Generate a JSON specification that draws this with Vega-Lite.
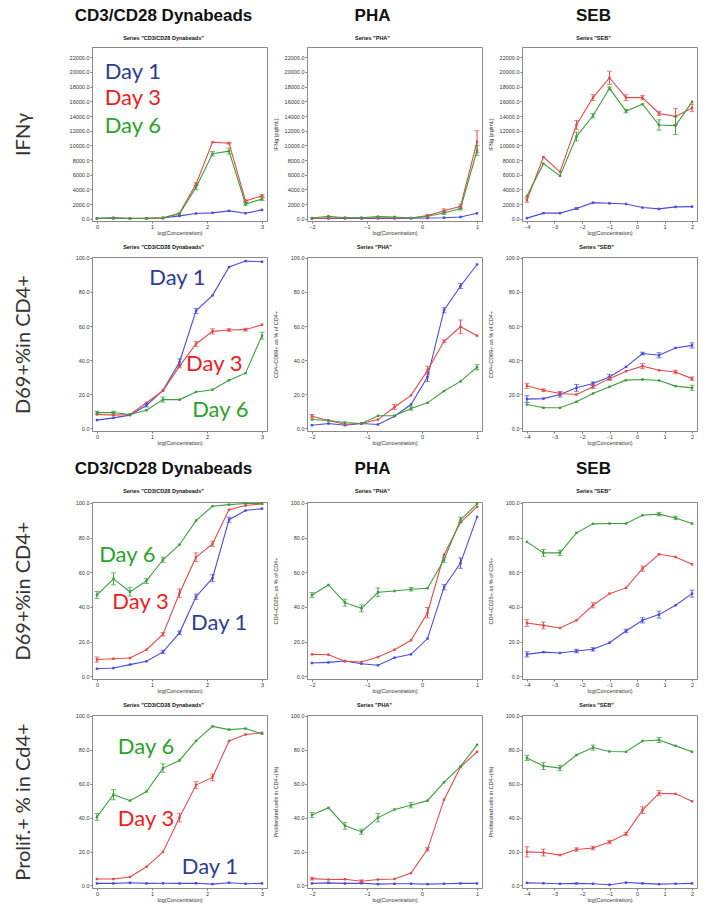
{
"$schema": "https://vega.github.io/schema/vega-lite/v6.json",
"background": "white",
"padding": {"left": 12, "top": 6, "right": 0, "bottom": 0},
"datasets": {
"pts": [
{"p":"a1","d":"Day 1","x":0,"y":60,"e":0},{"p":"a1","d":"Day 1","x":0.3,"y":150,"e":0},{"p":"a1","d":"Day 1","x":0.6,"y":50,"e":0},{"p":"a1","d":"Day 1","x":0.9,"y":50,"e":0},{"p":"a1","d":"Day 1","x":1.2,"y":100,"e":0},{"p":"a1","d":"Day 1","x":1.5,"y":400,"e":0},{"p":"a1","d":"Day 1","x":1.8,"y":720,"e":0},{"p":"a1","d":"Day 1","x":2.1,"y":810,"e":0},{"p":"a1","d":"Day 1","x":2.4,"y":1080,"e":0},{"p":"a1","d":"Day 1","x":2.7,"y":760,"e":0},{"p":"a1","d":"Day 1","x":3,"y":1210,"e":0},
{"p":"a1","d":"Day 3","x":0,"y":50,"e":0},{"p":"a1","d":"Day 3","x":0.3,"y":80,"e":0},{"p":"a1","d":"Day 3","x":0.6,"y":60,"e":0},{"p":"a1","d":"Day 3","x":0.9,"y":60,"e":0},{"p":"a1","d":"Day 3","x":1.2,"y":150,"e":0},{"p":"a1","d":"Day 3","x":1.5,"y":760,"e":0},{"p":"a1","d":"Day 3","x":1.8,"y":4720,"e":200},{"p":"a1","d":"Day 3","x":2.1,"y":10440,"e":0},{"p":"a1","d":"Day 3","x":2.4,"y":10300,"e":100},{"p":"a1","d":"Day 3","x":2.7,"y":2430,"e":150},{"p":"a1","d":"Day 3","x":3,"y":3150,"e":150},
{"p":"a1","d":"Day 6","x":0,"y":50,"e":0},{"p":"a1","d":"Day 6","x":0.3,"y":60,"e":0},{"p":"a1","d":"Day 6","x":0.6,"y":50,"e":0},{"p":"a1","d":"Day 6","x":0.9,"y":60,"e":0},{"p":"a1","d":"Day 6","x":1.2,"y":100,"e":0},{"p":"a1","d":"Day 6","x":1.5,"y":670,"e":0},{"p":"a1","d":"Day 6","x":1.8,"y":4270,"e":300},{"p":"a1","d":"Day 6","x":2.1,"y":8860,"e":300},{"p":"a1","d":"Day 6","x":2.4,"y":9220,"e":400},{"p":"a1","d":"Day 6","x":2.7,"y":2020,"e":200},{"p":"a1","d":"Day 6","x":3,"y":2700,"e":200},
{"p":"a2","d":"Day 1","x":-2,"y":50,"e":0},{"p":"a2","d":"Day 1","x":-1.7,"y":60,"e":0},{"p":"a2","d":"Day 1","x":-1.4,"y":50,"e":0},{"p":"a2","d":"Day 1","x":-1.1,"y":50,"e":0},{"p":"a2","d":"Day 1","x":-0.8,"y":60,"e":0},{"p":"a2","d":"Day 1","x":-0.5,"y":60,"e":0},{"p":"a2","d":"Day 1","x":-0.2,"y":80,"e":0},{"p":"a2","d":"Day 1","x":0.1,"y":100,"e":0},{"p":"a2","d":"Day 1","x":0.4,"y":150,"e":0},{"p":"a2","d":"Day 1","x":0.7,"y":250,"e":0},{"p":"a2","d":"Day 1","x":1,"y":750,"e":0},
{"p":"a2","d":"Day 3","x":-2,"y":50,"e":0},{"p":"a2","d":"Day 3","x":-1.7,"y":100,"e":0},{"p":"a2","d":"Day 3","x":-1.4,"y":100,"e":0},{"p":"a2","d":"Day 3","x":-1.1,"y":100,"e":0},{"p":"a2","d":"Day 3","x":-0.8,"y":100,"e":0},{"p":"a2","d":"Day 3","x":-0.5,"y":100,"e":0},{"p":"a2","d":"Day 3","x":-0.2,"y":100,"e":0},{"p":"a2","d":"Day 3","x":0.1,"y":450,"e":100},{"p":"a2","d":"Day 3","x":0.4,"y":1100,"e":250},{"p":"a2","d":"Day 3","x":0.7,"y":1700,"e":300},{"p":"a2","d":"Day 3","x":1,"y":10500,"e":1500},
{"p":"a2","d":"Day 6","x":-2,"y":100,"e":0},{"p":"a2","d":"Day 6","x":-1.7,"y":350,"e":0},{"p":"a2","d":"Day 6","x":-1.4,"y":150,"e":0},{"p":"a2","d":"Day 6","x":-1.1,"y":150,"e":0},{"p":"a2","d":"Day 6","x":-0.8,"y":300,"e":0},{"p":"a2","d":"Day 6","x":-0.5,"y":250,"e":0},{"p":"a2","d":"Day 6","x":-0.2,"y":100,"e":0},{"p":"a2","d":"Day 6","x":0.1,"y":350,"e":0},{"p":"a2","d":"Day 6","x":0.4,"y":800,"e":200},{"p":"a2","d":"Day 6","x":0.7,"y":1400,"e":200},{"p":"a2","d":"Day 6","x":1,"y":9300,"e":700},
{"p":"a3","d":"Day 1","x":-4,"y":90,"e":0},{"p":"a3","d":"Day 1","x":-3.4,"y":770,"e":0},{"p":"a3","d":"Day 1","x":-2.8,"y":770,"e":0},{"p":"a3","d":"Day 1","x":-2.2,"y":1390,"e":100},{"p":"a3","d":"Day 1","x":-1.6,"y":2200,"e":0},{"p":"a3","d":"Day 1","x":-1,"y":2110,"e":0},{"p":"a3","d":"Day 1","x":-0.4,"y":2020,"e":0},{"p":"a3","d":"Day 1","x":0.2,"y":1530,"e":0},{"p":"a3","d":"Day 1","x":0.8,"y":1350,"e":0},{"p":"a3","d":"Day 1","x":1.4,"y":1620,"e":0},{"p":"a3","d":"Day 1","x":2,"y":1660,"e":0},
{"p":"a3","d":"Day 3","x":-4,"y":2560,"e":300},{"p":"a3","d":"Day 3","x":-3.4,"y":8410,"e":0},{"p":"a3","d":"Day 3","x":-2.8,"y":6390,"e":0},{"p":"a3","d":"Day 3","x":-2.2,"y":12780,"e":600},{"p":"a3","d":"Day 3","x":-1.6,"y":16510,"e":400},{"p":"a3","d":"Day 3","x":-1,"y":19210,"e":900},{"p":"a3","d":"Day 3","x":-0.4,"y":16510,"e":400},{"p":"a3","d":"Day 3","x":0.2,"y":16510,"e":300},{"p":"a3","d":"Day 3","x":0.8,"y":14350,"e":300},{"p":"a3","d":"Day 3","x":1.4,"y":13950,"e":1100},{"p":"a3","d":"Day 3","x":2,"y":15100,"e":500},
{"p":"a3","d":"Day 6","x":-4,"y":3100,"e":0},{"p":"a3","d":"Day 6","x":-3.4,"y":7510,"e":0},{"p":"a3","d":"Day 6","x":-2.8,"y":5850,"e":0},{"p":"a3","d":"Day 6","x":-2.2,"y":11200,"e":600},{"p":"a3","d":"Day 6","x":-1.6,"y":14040,"e":300},{"p":"a3","d":"Day 6","x":-1,"y":17770,"e":200},{"p":"a3","d":"Day 6","x":-0.4,"y":14670,"e":250},{"p":"a3","d":"Day 6","x":0.2,"y":15610,"e":0},{"p":"a3","d":"Day 6","x":0.8,"y":12780,"e":700},{"p":"a3","d":"Day 6","x":1.4,"y":12690,"e":1200},{"p":"a3","d":"Day 6","x":2,"y":15930,"e":0},
{"p":"b1","d":"Day 1","x":0,"y":4.9,"e":0},{"p":"b1","d":"Day 1","x":0.3,"y":6.2,"e":0},{"p":"b1","d":"Day 1","x":0.6,"y":7.8,"e":0},{"p":"b1","d":"Day 1","x":0.9,"y":13.6,"e":1},{"p":"b1","d":"Day 1","x":1.2,"y":22.3,"e":0},{"p":"b1","d":"Day 1","x":1.5,"y":38.8,"e":2},{"p":"b1","d":"Day 1","x":1.8,"y":68.9,"e":1.5},{"p":"b1","d":"Day 1","x":2.1,"y":78,"e":0},{"p":"b1","d":"Day 1","x":2.4,"y":94.6,"e":0},{"p":"b1","d":"Day 1","x":2.7,"y":98.1,"e":0},{"p":"b1","d":"Day 1","x":3,"y":97.7,"e":0},
{"p":"b1","d":"Day 3","x":0,"y":8.2,"e":0},{"p":"b1","d":"Day 3","x":0.3,"y":7.8,"e":0},{"p":"b1","d":"Day 3","x":0.6,"y":8.2,"e":0},{"p":"b1","d":"Day 3","x":0.9,"y":15.1,"e":0},{"p":"b1","d":"Day 3","x":1.2,"y":22.1,"e":0},{"p":"b1","d":"Day 3","x":1.5,"y":36.5,"e":1},{"p":"b1","d":"Day 3","x":1.8,"y":49.5,"e":1.5},{"p":"b1","d":"Day 3","x":2.1,"y":56.9,"e":1.5},{"p":"b1","d":"Day 3","x":2.4,"y":57.7,"e":0.8},{"p":"b1","d":"Day 3","x":2.7,"y":57.9,"e":0.8},{"p":"b1","d":"Day 3","x":3,"y":60.8,"e":0},
{"p":"b1","d":"Day 6","x":0,"y":9.3,"e":0.8},{"p":"b1","d":"Day 6","x":0.3,"y":9.3,"e":0.8},{"p":"b1","d":"Day 6","x":0.6,"y":8.2,"e":0},{"p":"b1","d":"Day 6","x":0.9,"y":10.7,"e":0},{"p":"b1","d":"Day 6","x":1.2,"y":16.9,"e":1.5},{"p":"b1","d":"Day 6","x":1.5,"y":16.9,"e":0},{"p":"b1","d":"Day 6","x":1.8,"y":21.4,"e":0},{"p":"b1","d":"Day 6","x":2.1,"y":22.7,"e":0},{"p":"b1","d":"Day 6","x":2.4,"y":28.2,"e":0},{"p":"b1","d":"Day 6","x":2.7,"y":32.4,"e":0},{"p":"b1","d":"Day 6","x":3,"y":54.4,"e":2},
{"p":"b2","d":"Day 1","x":-2,"y":1.9,"e":0},{"p":"b2","d":"Day 1","x":-1.7,"y":2.9,"e":0},{"p":"b2","d":"Day 1","x":-1.4,"y":1.9,"e":0},{"p":"b2","d":"Day 1","x":-1.1,"y":2.9,"e":0},{"p":"b2","d":"Day 1","x":-0.8,"y":2.3,"e":0},{"p":"b2","d":"Day 1","x":-0.5,"y":7.2,"e":0},{"p":"b2","d":"Day 1","x":-0.2,"y":14,"e":0},{"p":"b2","d":"Day 1","x":0.1,"y":30.1,"e":2.5},{"p":"b2","d":"Day 1","x":0.4,"y":69.3,"e":1.5},{"p":"b2","d":"Day 1","x":0.7,"y":83.5,"e":1.5},{"p":"b2","d":"Day 1","x":1,"y":96.1,"e":0},
{"p":"b2","d":"Day 3","x":-2,"y":7.2,"e":1},{"p":"b2","d":"Day 3","x":-1.7,"y":4.7,"e":0},{"p":"b2","d":"Day 3","x":-1.4,"y":2.5,"e":0},{"p":"b2","d":"Day 3","x":-1.1,"y":2.9,"e":0},{"p":"b2","d":"Day 3","x":-0.8,"y":5.2,"e":0},{"p":"b2","d":"Day 3","x":-0.5,"y":12.6,"e":1.5},{"p":"b2","d":"Day 3","x":-0.2,"y":19.4,"e":0},{"p":"b2","d":"Day 3","x":0.1,"y":34,"e":2.5},{"p":"b2","d":"Day 3","x":0.4,"y":51.1,"e":0.8},{"p":"b2","d":"Day 3","x":0.7,"y":59.6,"e":4},{"p":"b2","d":"Day 3","x":1,"y":54.4,"e":0},
{"p":"b2","d":"Day 6","x":-2,"y":5.2,"e":0},{"p":"b2","d":"Day 6","x":-1.7,"y":4.7,"e":0},{"p":"b2","d":"Day 6","x":-1.4,"y":3.5,"e":0},{"p":"b2","d":"Day 6","x":-1.1,"y":2.9,"e":0},{"p":"b2","d":"Day 6","x":-0.8,"y":7.4,"e":0},{"p":"b2","d":"Day 6","x":-0.5,"y":7.4,"e":0},{"p":"b2","d":"Day 6","x":-0.2,"y":11.7,"e":1},{"p":"b2","d":"Day 6","x":0.1,"y":15,"e":0},{"p":"b2","d":"Day 6","x":0.4,"y":21.9,"e":0},{"p":"b2","d":"Day 6","x":0.7,"y":27.6,"e":0},{"p":"b2","d":"Day 6","x":1,"y":35.9,"e":1.5},
{"p":"b3","d":"Day 1","x":-4,"y":17.2,"e":2},{"p":"b3","d":"Day 1","x":-3.4,"y":17.5,"e":0},{"p":"b3","d":"Day 1","x":-2.8,"y":19.9,"e":1.5},{"p":"b3","d":"Day 1","x":-2.2,"y":23.8,"e":2},{"p":"b3","d":"Day 1","x":-1.6,"y":26.3,"e":1},{"p":"b3","d":"Day 1","x":-1,"y":30.2,"e":1.5},{"p":"b3","d":"Day 1","x":-0.4,"y":36.1,"e":0},{"p":"b3","d":"Day 1","x":0.2,"y":43.9,"e":0.8},{"p":"b3","d":"Day 1","x":0.8,"y":42.9,"e":1.5},{"p":"b3","d":"Day 1","x":1.4,"y":47.2,"e":0},{"p":"b3","d":"Day 1","x":2,"y":48.7,"e":1.5},
{"p":"b3","d":"Day 3","x":-4,"y":25,"e":1.5},{"p":"b3","d":"Day 3","x":-3.4,"y":22.4,"e":0.8},{"p":"b3","d":"Day 3","x":-2.8,"y":20.5,"e":1},{"p":"b3","d":"Day 3","x":-2.2,"y":19.9,"e":0},{"p":"b3","d":"Day 3","x":-1.6,"y":24.4,"e":1},{"p":"b3","d":"Day 3","x":-1,"y":29.2,"e":1},{"p":"b3","d":"Day 3","x":-0.4,"y":33.5,"e":0},{"p":"b3","d":"Day 3","x":0.2,"y":36.5,"e":1.5},{"p":"b3","d":"Day 3","x":0.8,"y":34.1,"e":0},{"p":"b3","d":"Day 3","x":1.4,"y":33.1,"e":1},{"p":"b3","d":"Day 3","x":2,"y":29.2,"e":1},
{"p":"b3","d":"Day 6","x":-4,"y":14,"e":0},{"p":"b3","d":"Day 6","x":-3.4,"y":12.1,"e":0},{"p":"b3","d":"Day 6","x":-2.8,"y":12.1,"e":0},{"p":"b3","d":"Day 6","x":-2.2,"y":15.6,"e":0},{"p":"b3","d":"Day 6","x":-1.6,"y":20.5,"e":0},{"p":"b3","d":"Day 6","x":-1,"y":24.4,"e":0},{"p":"b3","d":"Day 6","x":-0.4,"y":28.3,"e":0},{"p":"b3","d":"Day 6","x":0.2,"y":28.7,"e":0},{"p":"b3","d":"Day 6","x":0.8,"y":28.1,"e":0},{"p":"b3","d":"Day 6","x":1.4,"y":24.8,"e":0},{"p":"b3","d":"Day 6","x":2,"y":23.8,"e":1.5},
{"p":"c1","d":"Day 1","x":0,"y":4.4,"e":0},{"p":"c1","d":"Day 1","x":0.3,"y":4.8,"e":0},{"p":"c1","d":"Day 1","x":0.6,"y":6.8,"e":0},{"p":"c1","d":"Day 1","x":0.9,"y":8.7,"e":0},{"p":"c1","d":"Day 1","x":1.2,"y":14.1,"e":1},{"p":"c1","d":"Day 1","x":1.5,"y":25.1,"e":1},{"p":"c1","d":"Day 1","x":1.8,"y":45.9,"e":1.5},{"p":"c1","d":"Day 1","x":2.1,"y":56.6,"e":2},{"p":"c1","d":"Day 1","x":2.4,"y":90.3,"e":1.5},{"p":"c1","d":"Day 1","x":2.7,"y":95.6,"e":0},{"p":"c1","d":"Day 1","x":3,"y":96.7,"e":0},
{"p":"c1","d":"Day 3","x":0,"y":9.7,"e":1.5},{"p":"c1","d":"Day 3","x":0.3,"y":10.2,"e":0},{"p":"c1","d":"Day 3","x":0.6,"y":10.6,"e":0},{"p":"c1","d":"Day 3","x":0.9,"y":15.4,"e":0},{"p":"c1","d":"Day 3","x":1.2,"y":24.3,"e":1},{"p":"c1","d":"Day 3","x":1.5,"y":47.9,"e":2.5},{"p":"c1","d":"Day 3","x":1.8,"y":68.7,"e":2.5},{"p":"c1","d":"Day 3","x":2.1,"y":76.4,"e":1.5},{"p":"c1","d":"Day 3","x":2.4,"y":96.1,"e":0},{"p":"c1","d":"Day 3","x":2.7,"y":98.5,"e":0},{"p":"c1","d":"Day 3","x":3,"y":99.4,"e":0},
{"p":"c1","d":"Day 6","x":0,"y":46.9,"e":2},{"p":"c1","d":"Day 6","x":0.3,"y":56.2,"e":3.5},{"p":"c1","d":"Day 6","x":0.6,"y":48.8,"e":2.5},{"p":"c1","d":"Day 6","x":0.9,"y":55,"e":1.5},{"p":"c1","d":"Day 6","x":1.2,"y":67.2,"e":1.5},{"p":"c1","d":"Day 6","x":1.5,"y":75.9,"e":0},{"p":"c1","d":"Day 6","x":1.8,"y":89.8,"e":0},{"p":"c1","d":"Day 6","x":2.1,"y":98.1,"e":0},{"p":"c1","d":"Day 6","x":2.4,"y":99,"e":0},{"p":"c1","d":"Day 6","x":2.7,"y":99.6,"e":0},{"p":"c1","d":"Day 6","x":3,"y":99.6,"e":0},
{"p":"c2","d":"Day 1","x":-2,"y":7.7,"e":0},{"p":"c2","d":"Day 1","x":-1.7,"y":8.1,"e":0},{"p":"c2","d":"Day 1","x":-1.4,"y":8.9,"e":0},{"p":"c2","d":"Day 1","x":-1.1,"y":7.3,"e":0},{"p":"c2","d":"Day 1","x":-0.8,"y":6.4,"e":0},{"p":"c2","d":"Day 1","x":-0.5,"y":10.8,"e":0},{"p":"c2","d":"Day 1","x":-0.2,"y":12.7,"e":0},{"p":"c2","d":"Day 1","x":0.1,"y":21.8,"e":0},{"p":"c2","d":"Day 1","x":0.4,"y":51.4,"e":1.5},{"p":"c2","d":"Day 1","x":0.7,"y":65.3,"e":3},{"p":"c2","d":"Day 1","x":1,"y":91.9,"e":0},
{"p":"c2","d":"Day 3","x":-2,"y":12.7,"e":0},{"p":"c2","d":"Day 3","x":-1.7,"y":12.5,"e":0},{"p":"c2","d":"Day 3","x":-1.4,"y":8.7,"e":0},{"p":"c2","d":"Day 3","x":-1.1,"y":8.3,"e":0},{"p":"c2","d":"Day 3","x":-0.8,"y":11.2,"e":0},{"p":"c2","d":"Day 3","x":-0.5,"y":15.4,"e":0},{"p":"c2","d":"Day 3","x":-0.2,"y":20.8,"e":0},{"p":"c2","d":"Day 3","x":0.1,"y":36.7,"e":3},{"p":"c2","d":"Day 3","x":0.4,"y":70.1,"e":0},{"p":"c2","d":"Day 3","x":0.7,"y":88.8,"e":0},{"p":"c2","d":"Day 3","x":1,"y":97.7,"e":0},
{"p":"c2","d":"Day 6","x":-2,"y":46.9,"e":1.5},{"p":"c2","d":"Day 6","x":-1.7,"y":52.7,"e":0},{"p":"c2","d":"Day 6","x":-1.4,"y":42.5,"e":2},{"p":"c2","d":"Day 6","x":-1.1,"y":39.2,"e":2},{"p":"c2","d":"Day 6","x":-0.8,"y":48.5,"e":2.5},{"p":"c2","d":"Day 6","x":-0.5,"y":49.2,"e":0},{"p":"c2","d":"Day 6","x":-0.2,"y":50.2,"e":1},{"p":"c2","d":"Day 6","x":0.1,"y":50.8,"e":0},{"p":"c2","d":"Day 6","x":0.4,"y":67.2,"e":1.5},{"p":"c2","d":"Day 6","x":0.7,"y":90.3,"e":1.5},{"p":"c2","d":"Day 6","x":1,"y":99.4,"e":0},
{"p":"c3","d":"Day 1","x":-4,"y":12.7,"e":1.5},{"p":"c3","d":"Day 1","x":-3.4,"y":14,"e":0},{"p":"c3","d":"Day 1","x":-2.8,"y":13.5,"e":0},{"p":"c3","d":"Day 1","x":-2.2,"y":14.6,"e":1},{"p":"c3","d":"Day 1","x":-1.6,"y":15.6,"e":1},{"p":"c3","d":"Day 1","x":-1,"y":19.4,"e":0},{"p":"c3","d":"Day 1","x":-0.4,"y":26.2,"e":1},{"p":"c3","d":"Day 1","x":0.2,"y":32.3,"e":1.5},{"p":"c3","d":"Day 1","x":0.8,"y":35.6,"e":2},{"p":"c3","d":"Day 1","x":1.4,"y":41,"e":0},{"p":"c3","d":"Day 1","x":2,"y":47.7,"e":2},
{"p":"c3","d":"Day 3","x":-4,"y":30.8,"e":2},{"p":"c3","d":"Day 3","x":-3.4,"y":29.4,"e":2},{"p":"c3","d":"Day 3","x":-2.8,"y":27.9,"e":0},{"p":"c3","d":"Day 3","x":-2.2,"y":32.3,"e":0},{"p":"c3","d":"Day 3","x":-1.6,"y":41,"e":1.5},{"p":"c3","d":"Day 3","x":-1,"y":47.7,"e":0},{"p":"c3","d":"Day 3","x":-0.4,"y":51,"e":0},{"p":"c3","d":"Day 3","x":0.2,"y":62.1,"e":1.5},{"p":"c3","d":"Day 3","x":0.8,"y":70.4,"e":0},{"p":"c3","d":"Day 3","x":1.4,"y":68.8,"e":0},{"p":"c3","d":"Day 3","x":2,"y":64.6,"e":0},
{"p":"c3","d":"Day 6","x":-4,"y":77.5,"e":0},{"p":"c3","d":"Day 6","x":-3.4,"y":71.2,"e":2},{"p":"c3","d":"Day 6","x":-2.8,"y":71.2,"e":1.5},{"p":"c3","d":"Day 6","x":-2.2,"y":82.7,"e":0},{"p":"c3","d":"Day 6","x":-1.6,"y":87.9,"e":0},{"p":"c3","d":"Day 6","x":-1,"y":88.1,"e":0},{"p":"c3","d":"Day 6","x":-0.4,"y":88.1,"e":0},{"p":"c3","d":"Day 6","x":0.2,"y":92.9,"e":0},{"p":"c3","d":"Day 6","x":0.8,"y":93.5,"e":1},{"p":"c3","d":"Day 6","x":1.4,"y":91.3,"e":1},{"p":"c3","d":"Day 6","x":2,"y":88.1,"e":0},
{"p":"d1","d":"Day 1","x":0,"y":1.2,"e":0},{"p":"d1","d":"Day 1","x":0.3,"y":1.2,"e":0},{"p":"d1","d":"Day 1","x":0.6,"y":1.6,"e":0},{"p":"d1","d":"Day 1","x":0.9,"y":1.2,"e":0},{"p":"d1","d":"Day 1","x":1.2,"y":1.3,"e":0},{"p":"d1","d":"Day 1","x":1.5,"y":1.2,"e":0},{"p":"d1","d":"Day 1","x":1.8,"y":1.3,"e":0},{"p":"d1","d":"Day 1","x":2.1,"y":0.8,"e":0},{"p":"d1","d":"Day 1","x":2.4,"y":1.6,"e":0},{"p":"d1","d":"Day 1","x":2.7,"y":1,"e":0},{"p":"d1","d":"Day 1","x":3,"y":1.2,"e":0},
{"p":"d1","d":"Day 3","x":0,"y":3.8,"e":0},{"p":"d1","d":"Day 3","x":0.3,"y":3.8,"e":0},{"p":"d1","d":"Day 3","x":0.6,"y":5,"e":0},{"p":"d1","d":"Day 3","x":0.9,"y":11,"e":0},{"p":"d1","d":"Day 3","x":1.2,"y":19.8,"e":0},{"p":"d1","d":"Day 3","x":1.5,"y":40,"e":2.5},{"p":"d1","d":"Day 3","x":1.8,"y":59.2,"e":2},{"p":"d1","d":"Day 3","x":2.1,"y":63.7,"e":2},{"p":"d1","d":"Day 3","x":2.4,"y":85.2,"e":0},{"p":"d1","d":"Day 3","x":2.7,"y":89,"e":0},{"p":"d1","d":"Day 3","x":3,"y":90,"e":0},
{"p":"d1","d":"Day 6","x":0,"y":40.4,"e":2},{"p":"d1","d":"Day 6","x":0.3,"y":53.5,"e":3},{"p":"d1","d":"Day 6","x":0.6,"y":50,"e":0},{"p":"d1","d":"Day 6","x":0.9,"y":55.4,"e":0},{"p":"d1","d":"Day 6","x":1.2,"y":69.2,"e":2.5},{"p":"d1","d":"Day 6","x":1.5,"y":73.7,"e":0},{"p":"d1","d":"Day 6","x":1.8,"y":85.2,"e":0},{"p":"d1","d":"Day 6","x":2.1,"y":93.8,"e":0},{"p":"d1","d":"Day 6","x":2.4,"y":91.9,"e":0},{"p":"d1","d":"Day 6","x":2.7,"y":92.5,"e":0},{"p":"d1","d":"Day 6","x":3,"y":89.4,"e":0},
{"p":"d2","d":"Day 1","x":-2,"y":1.2,"e":0},{"p":"d2","d":"Day 1","x":-1.7,"y":1.5,"e":0},{"p":"d2","d":"Day 1","x":-1.4,"y":1.2,"e":0},{"p":"d2","d":"Day 1","x":-1.1,"y":1.3,"e":0},{"p":"d2","d":"Day 1","x":-0.8,"y":0.8,"e":0},{"p":"d2","d":"Day 1","x":-0.5,"y":1,"e":0},{"p":"d2","d":"Day 1","x":-0.2,"y":1,"e":0},{"p":"d2","d":"Day 1","x":0.1,"y":0.8,"e":0},{"p":"d2","d":"Day 1","x":0.4,"y":1,"e":0},{"p":"d2","d":"Day 1","x":0.7,"y":1.2,"e":0},{"p":"d2","d":"Day 1","x":1,"y":1.2,"e":0},
{"p":"d2","d":"Day 3","x":-2,"y":4,"e":0.8},{"p":"d2","d":"Day 3","x":-1.7,"y":3.5,"e":0},{"p":"d2","d":"Day 3","x":-1.4,"y":3.7,"e":0},{"p":"d2","d":"Day 3","x":-1.1,"y":2.5,"e":0.8},{"p":"d2","d":"Day 3","x":-0.8,"y":3.5,"e":0},{"p":"d2","d":"Day 3","x":-0.5,"y":3.8,"e":0},{"p":"d2","d":"Day 3","x":-0.2,"y":7.3,"e":0},{"p":"d2","d":"Day 3","x":0.1,"y":21.3,"e":1},{"p":"d2","d":"Day 3","x":0.4,"y":50.6,"e":0},{"p":"d2","d":"Day 3","x":0.7,"y":69.8,"e":0},{"p":"d2","d":"Day 3","x":1,"y":78.8,"e":0},
{"p":"d2","d":"Day 6","x":-2,"y":41.5,"e":1.5},{"p":"d2","d":"Day 6","x":-1.7,"y":45.8,"e":0},{"p":"d2","d":"Day 6","x":-1.4,"y":35.2,"e":2},{"p":"d2","d":"Day 6","x":-1.1,"y":31.7,"e":1.5},{"p":"d2","d":"Day 6","x":-0.8,"y":40,"e":2.5},{"p":"d2","d":"Day 6","x":-0.5,"y":44.8,"e":0},{"p":"d2","d":"Day 6","x":-0.2,"y":47.3,"e":1.5},{"p":"d2","d":"Day 6","x":0.1,"y":50,"e":0},{"p":"d2","d":"Day 6","x":0.4,"y":60.8,"e":0},{"p":"d2","d":"Day 6","x":0.7,"y":70.2,"e":0},{"p":"d2","d":"Day 6","x":1,"y":82.9,"e":0},
{"p":"d3","d":"Day 1","x":-4,"y":1.5,"e":0},{"p":"d3","d":"Day 1","x":-3.4,"y":1.3,"e":0},{"p":"d3","d":"Day 1","x":-2.8,"y":1,"e":0},{"p":"d3","d":"Day 1","x":-2.2,"y":1.2,"e":0},{"p":"d3","d":"Day 1","x":-1.6,"y":1,"e":0},{"p":"d3","d":"Day 1","x":-1,"y":0.4,"e":0},{"p":"d3","d":"Day 1","x":-0.4,"y":1.7,"e":0},{"p":"d3","d":"Day 1","x":0.2,"y":1.2,"e":0},{"p":"d3","d":"Day 1","x":0.8,"y":0.8,"e":0},{"p":"d3","d":"Day 1","x":1.4,"y":1,"e":0},{"p":"d3","d":"Day 1","x":2,"y":1.2,"e":0},
{"p":"d3","d":"Day 3","x":-4,"y":19.8,"e":3},{"p":"d3","d":"Day 3","x":-3.4,"y":19.4,"e":2},{"p":"d3","d":"Day 3","x":-2.8,"y":17.9,"e":0},{"p":"d3","d":"Day 3","x":-2.2,"y":21.2,"e":1},{"p":"d3","d":"Day 3","x":-1.6,"y":22.1,"e":1},{"p":"d3","d":"Day 3","x":-1,"y":25.6,"e":1},{"p":"d3","d":"Day 3","x":-0.4,"y":30.4,"e":1},{"p":"d3","d":"Day 3","x":0.2,"y":44.4,"e":2},{"p":"d3","d":"Day 3","x":0.8,"y":54.4,"e":1.5},{"p":"d3","d":"Day 3","x":1.4,"y":54,"e":0},{"p":"d3","d":"Day 3","x":2,"y":49.6,"e":0},
{"p":"d3","d":"Day 6","x":-4,"y":75.2,"e":1.5},{"p":"d3","d":"Day 6","x":-3.4,"y":70.4,"e":2},{"p":"d3","d":"Day 6","x":-2.8,"y":69.2,"e":1.5},{"p":"d3","d":"Day 6","x":-2.2,"y":76.9,"e":0},{"p":"d3","d":"Day 6","x":-1.6,"y":81.3,"e":1.5},{"p":"d3","d":"Day 6","x":-1,"y":79,"e":0},{"p":"d3","d":"Day 6","x":-0.4,"y":78.8,"e":0},{"p":"d3","d":"Day 6","x":0.2,"y":85.2,"e":0},{"p":"d3","d":"Day 6","x":0.8,"y":85.8,"e":1.5},{"p":"d3","d":"Day 6","x":1.4,"y":82.3,"e":0},{"p":"d3","d":"Day 6","x":2,"y":78.8,"e":0}
],
"ann": [
{"p":"a1","d":"Day 1","x":0.14,"y":20000},{"p":"a1","d":"Day 3","x":0.14,"y":16500},{"p":"a1","d":"Day 6","x":0.14,"y":12600},
{"p":"b1","d":"Day 1","x":0.95,"y":88},{"p":"b1","d":"Day 3","x":1.62,"y":37.7},{"p":"b1","d":"Day 6","x":1.73,"y":10.9},
{"p":"c1","d":"Day 6","x":0.04,"y":70},{"p":"c1","d":"Day 3","x":0.28,"y":42.8},{"p":"c1","d":"Day 1","x":1.71,"y":30.7},
{"p":"d1","d":"Day 6","x":0.38,"y":81.5},{"p":"d1","d":"Day 3","x":0.38,"y":39},{"p":"d1","d":"Day 1","x":1.54,"y":11}
]
},
"spacing": 12,
"vconcat": [
{"spacing": 7, "vconcat": [
 {"spacing": 4, "hconcat": [
  {"width": 175, "height": 174,
   "title": {"text": "CD3/CD28 Dynabeads", "subtitle": "Series \"CD3/CD28 Dynabeads\"", "fontSize": 17, "fontWeight": "bold", "subtitleFontSize": 5.5, "subtitleFontWeight": "bold", "subtitleColor": "#111", "subtitlePadding": 11, "offset": 5, "dx": -16},
   "encoding": {
    "x": {"field": "x", "type": "quantitative", "scale": {"domain": [-0.09, 3.09], "nice": false, "zero": false}, "axis": {"values": [0, 1, 2, 3], "format": "d", "title": "log(Concentration)"}},
    "y": {"field": "y", "type": "quantitative", "scale": {"domain": [-300, 23400], "nice": false, "zero": false}, "axis": {"values": [0, 2000, 4000, 6000, 8000, 10000, 12000, 14000, 16000, 18000, 20000, 22000], "format": ".1f", "title": "IFNγ", "titleFont": "Lato", "titleFontSize": 20, "titleColor": "#333", "titlePadding": 33}}
   },
   "layer": [
    {"data": {"name": "pts"}, "transform": [{"filter": "datum.p == 'a1'"}], "mark": {"type": "line", "strokeWidth": 1.1, "point": {"shape": "square", "size": 6, "filled": true}}, "encoding": {"color": {"field": "d", "type": "nominal", "scale": {"domain": ["Day 1", "Day 3", "Day 6"], "range": ["#4b4bd9", "#e14b4b", "#3c9e3c"]}, "legend": null}}},
    {"data": {"name": "pts"}, "transform": [{"filter": "datum.p == 'a1' && datum.e > 0"}], "mark": {"type": "errorbar", "ticks": true}, "encoding": {"yError": {"field": "e"}, "color": {"field": "d", "type": "nominal", "scale": {"domain": ["Day 1", "Day 3", "Day 6"], "range": ["#4b4bd9", "#e14b4b", "#3c9e3c"]}, "legend": null}}},
    {"data": {"name": "ann"}, "transform": [{"filter": "datum.p == 'a1'"}], "mark": {"type": "text", "align": "left", "baseline": "middle", "font": "Lato", "fontSize": 22}, "encoding": {"text": {"field": "d"}, "color": {"field": "d", "type": "nominal", "scale": {"domain": ["Day 1", "Day 3", "Day 6"], "range": ["#2e3d91", "#ec1c24", "#2ba12b"]}, "legend": null}}}
   ],
   "resolve": {"scale": {"color": "independent"}}
  },
  {"width": 175, "height": 174,
   "title": {"text": "PHA", "subtitle": "Series \"PHA\"", "fontSize": 17, "fontWeight": "bold", "subtitleFontSize": 5.5, "subtitleFontWeight": "bold", "subtitleColor": "#111", "subtitlePadding": 11, "offset": 5, "dx": -22},
   "encoding": {
    "x": {"field": "x", "type": "quantitative", "scale": {"domain": [-2.09, 1.09], "nice": false, "zero": false}, "axis": {"values": [-2, -1, 0, 1], "format": "d", "title": "log(Concentration)"}},
    "y": {"field": "y", "type": "quantitative", "scale": {"domain": [-300, 23400], "nice": false, "zero": false}, "axis": {"values": [0, 2000, 4000, 6000, 8000, 10000, 12000, 14000, 16000, 18000, 20000, 22000], "format": ".1f", "title": "IFNg (pg/mL)"}}
   },
   "layer": [
    {"data": {"name": "pts"}, "transform": [{"filter": "datum.p == 'a2'"}], "mark": {"type": "line", "strokeWidth": 1.1, "point": {"shape": "square", "size": 6, "filled": true}}, "encoding": {"color": {"field": "d", "type": "nominal", "scale": {"domain": ["Day 1", "Day 3", "Day 6"], "range": ["#4b4bd9", "#e14b4b", "#3c9e3c"]}, "legend": null}}},
    {"data": {"name": "pts"}, "transform": [{"filter": "datum.p == 'a2' && datum.e > 0"}], "mark": {"type": "errorbar", "ticks": true}, "encoding": {"yError": {"field": "e"}, "color": {"field": "d", "type": "nominal", "scale": {"domain": ["Day 1", "Day 3", "Day 6"], "range": ["#4b4bd9", "#e14b4b", "#3c9e3c"]}, "legend": null}}}
   ]
  },
  {"width": 175, "height": 174,
   "title": {"text": "SEB", "subtitle": "Series \"SEB\"", "fontSize": 17, "fontWeight": "bold", "subtitleFontSize": 5.5, "subtitleFontWeight": "bold", "subtitleColor": "#111", "subtitlePadding": 11, "offset": 5, "dx": -16},
   "encoding": {
    "x": {"field": "x", "type": "quantitative", "scale": {"domain": [-4.18, 2.18], "nice": false, "zero": false}, "axis": {"values": [-4, -3, -2, -1, 0, 1, 2], "format": "d", "title": "log(Concentration)"}},
    "y": {"field": "y", "type": "quantitative", "scale": {"domain": [-300, 23400], "nice": false, "zero": false}, "axis": {"values": [0, 2000, 4000, 6000, 8000, 10000, 12000, 14000, 16000, 18000, 20000, 22000], "format": ".1f", "title": "IFNg (pg/mL)"}}
   },
   "layer": [
    {"data": {"name": "pts"}, "transform": [{"filter": "datum.p == 'a3'"}], "mark": {"type": "line", "strokeWidth": 1.1, "point": {"shape": "square", "size": 6, "filled": true}}, "encoding": {"color": {"field": "d", "type": "nominal", "scale": {"domain": ["Day 1", "Day 3", "Day 6"], "range": ["#4b4bd9", "#e14b4b", "#3c9e3c"]}, "legend": null}}},
    {"data": {"name": "pts"}, "transform": [{"filter": "datum.p == 'a3' && datum.e > 0"}], "mark": {"type": "errorbar", "ticks": true}, "encoding": {"yError": {"field": "e"}, "color": {"field": "d", "type": "nominal", "scale": {"domain": ["Day 1", "Day 3", "Day 6"], "range": ["#4b4bd9", "#e14b4b", "#3c9e3c"]}, "legend": null}}}
   ]
  }
 ]},
 {"spacing": 4, "hconcat": [
  {"width": 175, "height": 174,
   "title": {"text": "Series \"CD3/CD28 Dynabeads\"", "fontSize": 5.5, "fontWeight": "bold", "offset": 5, "dx": -16},
   "encoding": {
    "x": {"field": "x", "type": "quantitative", "scale": {"domain": [-0.09, 3.09], "nice": false, "zero": false}, "axis": {"values": [0, 1, 2, 3], "format": "d", "title": "log(Concentration)"}},
    "y": {"field": "y", "type": "quantitative", "scale": {"domain": [-1.5, 100.5], "nice": false, "zero": false}, "axis": {"values": [0, 20, 40, 60, 80, 100], "format": ".1f", "title": "D69+%in CD4+", "titleFont": "Lato", "titleFontSize": 20, "titleColor": "#333", "titlePadding": 33}}
   },
   "layer": [
    {"data": {"name": "pts"}, "transform": [{"filter": "datum.p == 'b1'"}], "mark": {"type": "line", "strokeWidth": 1.1, "point": {"shape": "square", "size": 6, "filled": true}}, "encoding": {"color": {"field": "d", "type": "nominal", "scale": {"domain": ["Day 1", "Day 3", "Day 6"], "range": ["#4b4bd9", "#e14b4b", "#3c9e3c"]}, "legend": null}}},
    {"data": {"name": "pts"}, "transform": [{"filter": "datum.p == 'b1' && datum.e > 0"}], "mark": {"type": "errorbar", "ticks": true}, "encoding": {"yError": {"field": "e"}, "color": {"field": "d", "type": "nominal", "scale": {"domain": ["Day 1", "Day 3", "Day 6"], "range": ["#4b4bd9", "#e14b4b", "#3c9e3c"]}, "legend": null}}},
    {"data": {"name": "ann"}, "transform": [{"filter": "datum.p == 'b1'"}], "mark": {"type": "text", "align": "left", "baseline": "middle", "font": "Lato", "fontSize": 22}, "encoding": {"text": {"field": "d"}, "color": {"field": "d", "type": "nominal", "scale": {"domain": ["Day 1", "Day 3", "Day 6"], "range": ["#2e3d91", "#ec1c24", "#2ba12b"]}, "legend": null}}}
   ],
   "resolve": {"scale": {"color": "independent"}}
  },
  {"width": 175, "height": 174,
   "title": {"text": "Series \"PHA\"", "fontSize": 5.5, "fontWeight": "bold", "offset": 5, "dx": -20},
   "encoding": {
    "x": {"field": "x", "type": "quantitative", "scale": {"domain": [-2.09, 1.09], "nice": false, "zero": false}, "axis": {"values": [-2, -1, 0, 1], "format": "d", "title": "log(Concentration)"}},
    "y": {"field": "y", "type": "quantitative", "scale": {"domain": [-1.5, 100.5], "nice": false, "zero": false}, "axis": {"values": [0, 20, 40, 60, 80, 100], "format": ".1f", "title": "CD4+CD69+ as % of CD4+"}}
   },
   "layer": [
    {"data": {"name": "pts"}, "transform": [{"filter": "datum.p == 'b2'"}], "mark": {"type": "line", "strokeWidth": 1.1, "point": {"shape": "square", "size": 6, "filled": true}}, "encoding": {"color": {"field": "d", "type": "nominal", "scale": {"domain": ["Day 1", "Day 3", "Day 6"], "range": ["#4b4bd9", "#e14b4b", "#3c9e3c"]}, "legend": null}}},
    {"data": {"name": "pts"}, "transform": [{"filter": "datum.p == 'b2' && datum.e > 0"}], "mark": {"type": "errorbar", "ticks": true}, "encoding": {"yError": {"field": "e"}, "color": {"field": "d", "type": "nominal", "scale": {"domain": ["Day 1", "Day 3", "Day 6"], "range": ["#4b4bd9", "#e14b4b", "#3c9e3c"]}, "legend": null}}}
   ]
  },
  {"width": 175, "height": 174,
   "title": {"text": "Series \"SEB\"", "fontSize": 5.5, "fontWeight": "bold", "offset": 5, "dx": -13},
   "encoding": {
    "x": {"field": "x", "type": "quantitative", "scale": {"domain": [-4.18, 2.18], "nice": false, "zero": false}, "axis": {"values": [-4, -3, -2, -1, 0, 1, 2], "format": "d", "title": "log(Concentration)"}},
    "y": {"field": "y", "type": "quantitative", "scale": {"domain": [-1.5, 100.5], "nice": false, "zero": false}, "axis": {"values": [0, 20, 40, 60, 80, 100], "format": ".1f", "title": "CD4+CD69+ as % of CD4+"}}
   },
   "layer": [
    {"data": {"name": "pts"}, "transform": [{"filter": "datum.p == 'b3'"}], "mark": {"type": "line", "strokeWidth": 1.1, "point": {"shape": "square", "size": 6, "filled": true}}, "encoding": {"color": {"field": "d", "type": "nominal", "scale": {"domain": ["Day 1", "Day 3", "Day 6"], "range": ["#4b4bd9", "#e14b4b", "#3c9e3c"]}, "legend": null}}},
    {"data": {"name": "pts"}, "transform": [{"filter": "datum.p == 'b3' && datum.e > 0"}], "mark": {"type": "errorbar", "ticks": true}, "encoding": {"yError": {"field": "e"}, "color": {"field": "d", "type": "nominal", "scale": {"domain": ["Day 1", "Day 3", "Day 6"], "range": ["#4b4bd9", "#e14b4b", "#3c9e3c"]}, "legend": null}}}
   ]
  }
 ]}
]},
{"spacing": 7, "vconcat": [
 {"spacing": 4, "hconcat": [
  {"width": 175, "height": 177,
   "title": {"text": "CD3/CD28 Dynabeads", "subtitle": "Series \"CD3/CD28 Dynabeads\"", "fontSize": 17, "fontWeight": "bold", "subtitleFontSize": 5.5, "subtitleFontWeight": "bold", "subtitleColor": "#111", "subtitlePadding": 11, "offset": 5, "dx": -16},
   "encoding": {
    "x": {"field": "x", "type": "quantitative", "scale": {"domain": [-0.09, 3.09], "nice": false, "zero": false}, "axis": {"values": [0, 1, 2, 3], "format": "d", "title": "log(Concentration)"}},
    "y": {"field": "y", "type": "quantitative", "scale": {"domain": [-1.5, 100.5], "nice": false, "zero": false}, "axis": {"values": [0, 20, 40, 60, 80, 100], "format": ".1f", "title": "D69+%in CD4+", "titleFont": "Lato", "titleFontSize": 20, "titleColor": "#333", "titlePadding": 33}}
   },
   "layer": [
    {"data": {"name": "pts"}, "transform": [{"filter": "datum.p == 'c1'"}], "mark": {"type": "line", "strokeWidth": 1.1, "point": {"shape": "square", "size": 6, "filled": true}}, "encoding": {"color": {"field": "d", "type": "nominal", "scale": {"domain": ["Day 1", "Day 3", "Day 6"], "range": ["#4b4bd9", "#e14b4b", "#3c9e3c"]}, "legend": null}}},
    {"data": {"name": "pts"}, "transform": [{"filter": "datum.p == 'c1' && datum.e > 0"}], "mark": {"type": "errorbar", "ticks": true}, "encoding": {"yError": {"field": "e"}, "color": {"field": "d", "type": "nominal", "scale": {"domain": ["Day 1", "Day 3", "Day 6"], "range": ["#4b4bd9", "#e14b4b", "#3c9e3c"]}, "legend": null}}},
    {"data": {"name": "ann"}, "transform": [{"filter": "datum.p == 'c1'"}], "mark": {"type": "text", "align": "left", "baseline": "middle", "font": "Lato", "fontSize": 22}, "encoding": {"text": {"field": "d"}, "color": {"field": "d", "type": "nominal", "scale": {"domain": ["Day 1", "Day 3", "Day 6"], "range": ["#2e3d91", "#ec1c24", "#2ba12b"]}, "legend": null}}}
   ],
   "resolve": {"scale": {"color": "independent"}}
  },
  {"width": 175, "height": 177,
   "title": {"text": "PHA", "subtitle": "Series \"PHA\"", "fontSize": 17, "fontWeight": "bold", "subtitleFontSize": 5.5, "subtitleFontWeight": "bold", "subtitleColor": "#111", "subtitlePadding": 11, "offset": 5, "dx": -22},
   "encoding": {
    "x": {"field": "x", "type": "quantitative", "scale": {"domain": [-2.09, 1.09], "nice": false, "zero": false}, "axis": {"values": [-2, -1, 0, 1], "format": "d", "title": "log(Concentration)"}},
    "y": {"field": "y", "type": "quantitative", "scale": {"domain": [-1.5, 100.5], "nice": false, "zero": false}, "axis": {"values": [0, 20, 40, 60, 80, 100], "format": ".1f", "title": "CD4+CD25+ as % of CD4+"}}
   },
   "layer": [
    {"data": {"name": "pts"}, "transform": [{"filter": "datum.p == 'c2'"}], "mark": {"type": "line", "strokeWidth": 1.1, "point": {"shape": "square", "size": 6, "filled": true}}, "encoding": {"color": {"field": "d", "type": "nominal", "scale": {"domain": ["Day 1", "Day 3", "Day 6"], "range": ["#4b4bd9", "#e14b4b", "#3c9e3c"]}, "legend": null}}},
    {"data": {"name": "pts"}, "transform": [{"filter": "datum.p == 'c2' && datum.e > 0"}], "mark": {"type": "errorbar", "ticks": true}, "encoding": {"yError": {"field": "e"}, "color": {"field": "d", "type": "nominal", "scale": {"domain": ["Day 1", "Day 3", "Day 6"], "range": ["#4b4bd9", "#e14b4b", "#3c9e3c"]}, "legend": null}}}
   ]
  },
  {"width": 175, "height": 177,
   "title": {"text": "SEB", "subtitle": "Series \"SEB\"", "fontSize": 17, "fontWeight": "bold", "subtitleFontSize": 5.5, "subtitleFontWeight": "bold", "subtitleColor": "#111", "subtitlePadding": 11, "offset": 5, "dx": -16},
   "encoding": {
    "x": {"field": "x", "type": "quantitative", "scale": {"domain": [-4.18, 2.18], "nice": false, "zero": false}, "axis": {"values": [-4, -3, -2, -1, 0, 1, 2], "format": "d", "title": "log(Concentration)"}},
    "y": {"field": "y", "type": "quantitative", "scale": {"domain": [-1.5, 100.5], "nice": false, "zero": false}, "axis": {"values": [0, 20, 40, 60, 80, 100], "format": ".1f", "title": "CD4+CD25+ as % of CD4+"}}
   },
   "layer": [
    {"data": {"name": "pts"}, "transform": [{"filter": "datum.p == 'c3'"}], "mark": {"type": "line", "strokeWidth": 1.1, "point": {"shape": "square", "size": 6, "filled": true}}, "encoding": {"color": {"field": "d", "type": "nominal", "scale": {"domain": ["Day 1", "Day 3", "Day 6"], "range": ["#4b4bd9", "#e14b4b", "#3c9e3c"]}, "legend": null}}},
    {"data": {"name": "pts"}, "transform": [{"filter": "datum.p == 'c3' && datum.e > 0"}], "mark": {"type": "errorbar", "ticks": true}, "encoding": {"yError": {"field": "e"}, "color": {"field": "d", "type": "nominal", "scale": {"domain": ["Day 1", "Day 3", "Day 6"], "range": ["#4b4bd9", "#e14b4b", "#3c9e3c"]}, "legend": null}}}
   ]
  }
 ]},
 {"spacing": 4, "hconcat": [
  {"width": 175, "height": 173,
   "title": {"text": "Series \"CD3/CD28 Dynabeads\"", "fontSize": 5.5, "fontWeight": "bold", "offset": 5, "dx": -16},
   "encoding": {
    "x": {"field": "x", "type": "quantitative", "scale": {"domain": [-0.09, 3.09], "nice": false, "zero": false}, "axis": {"values": [0, 1, 2, 3], "format": "d", "title": "log(Concentration)"}},
    "y": {"field": "y", "type": "quantitative", "scale": {"domain": [-1.5, 100.5], "nice": false, "zero": false}, "axis": {"values": [0, 20, 40, 60, 80, 100], "format": ".1f", "title": "Prolif.+ % in Cd4+", "titleFont": "Lato", "titleFontSize": 20, "titleColor": "#333", "titlePadding": 33}}
   },
   "layer": [
    {"data": {"name": "pts"}, "transform": [{"filter": "datum.p == 'd1'"}], "mark": {"type": "line", "strokeWidth": 1.1, "point": {"shape": "square", "size": 6, "filled": true}}, "encoding": {"color": {"field": "d", "type": "nominal", "scale": {"domain": ["Day 1", "Day 3", "Day 6"], "range": ["#4b4bd9", "#e14b4b", "#3c9e3c"]}, "legend": null}}},
    {"data": {"name": "pts"}, "transform": [{"filter": "datum.p == 'd1' && datum.e > 0"}], "mark": {"type": "errorbar", "ticks": true}, "encoding": {"yError": {"field": "e"}, "color": {"field": "d", "type": "nominal", "scale": {"domain": ["Day 1", "Day 3", "Day 6"], "range": ["#4b4bd9", "#e14b4b", "#3c9e3c"]}, "legend": null}}},
    {"data": {"name": "ann"}, "transform": [{"filter": "datum.p == 'd1'"}], "mark": {"type": "text", "align": "left", "baseline": "middle", "font": "Lato", "fontSize": 22}, "encoding": {"text": {"field": "d"}, "color": {"field": "d", "type": "nominal", "scale": {"domain": ["Day 1", "Day 3", "Day 6"], "range": ["#2e3d91", "#ec1c24", "#2ba12b"]}, "legend": null}}}
   ],
   "resolve": {"scale": {"color": "independent"}}
  },
  {"width": 175, "height": 173,
   "title": {"text": "Series \"PHA\"", "fontSize": 5.5, "fontWeight": "bold", "offset": 5, "dx": -20},
   "encoding": {
    "x": {"field": "x", "type": "quantitative", "scale": {"domain": [-2.09, 1.09], "nice": false, "zero": false}, "axis": {"values": [-2, -1, 0, 1], "format": "d", "title": "log(Concentration)"}},
    "y": {"field": "y", "type": "quantitative", "scale": {"domain": [-1.5, 100.5], "nice": false, "zero": false}, "axis": {"values": [0, 20, 40, 60, 80, 100], "format": ".1f", "title": "Proliferated cells in CD4+(%)"}}
   },
   "layer": [
    {"data": {"name": "pts"}, "transform": [{"filter": "datum.p == 'd2'"}], "mark": {"type": "line", "strokeWidth": 1.1, "point": {"shape": "square", "size": 6, "filled": true}}, "encoding": {"color": {"field": "d", "type": "nominal", "scale": {"domain": ["Day 1", "Day 3", "Day 6"], "range": ["#4b4bd9", "#e14b4b", "#3c9e3c"]}, "legend": null}}},
    {"data": {"name": "pts"}, "transform": [{"filter": "datum.p == 'd2' && datum.e > 0"}], "mark": {"type": "errorbar", "ticks": true}, "encoding": {"yError": {"field": "e"}, "color": {"field": "d", "type": "nominal", "scale": {"domain": ["Day 1", "Day 3", "Day 6"], "range": ["#4b4bd9", "#e14b4b", "#3c9e3c"]}, "legend": null}}}
   ]
  },
  {"width": 175, "height": 173,
   "title": {"text": "Series \"SEB\"", "fontSize": 5.5, "fontWeight": "bold", "offset": 5, "dx": -13},
   "encoding": {
    "x": {"field": "x", "type": "quantitative", "scale": {"domain": [-4.18, 2.18], "nice": false, "zero": false}, "axis": {"values": [-4, -3, -2, -1, 0, 1, 2], "format": "d", "title": "log(Concentration)"}},
    "y": {"field": "y", "type": "quantitative", "scale": {"domain": [-1.5, 100.5], "nice": false, "zero": false}, "axis": {"values": [0, 20, 40, 60, 80, 100], "format": ".1f", "title": "Proliferated cells in CD4+(%)"}}
   },
   "layer": [
    {"data": {"name": "pts"}, "transform": [{"filter": "datum.p == 'd3'"}], "mark": {"type": "line", "strokeWidth": 1.1, "point": {"shape": "square", "size": 6, "filled": true}}, "encoding": {"color": {"field": "d", "type": "nominal", "scale": {"domain": ["Day 1", "Day 3", "Day 6"], "range": ["#4b4bd9", "#e14b4b", "#3c9e3c"]}, "legend": null}}},
    {"data": {"name": "pts"}, "transform": [{"filter": "datum.p == 'd3' && datum.e > 0"}], "mark": {"type": "errorbar", "ticks": true}, "encoding": {"yError": {"field": "e"}, "color": {"field": "d", "type": "nominal", "scale": {"domain": ["Day 1", "Day 3", "Day 6"], "range": ["#4b4bd9", "#e14b4b", "#3c9e3c"]}, "legend": null}}}
   ]
  }
 ]}
]}
],
"config": {
 "view": {"stroke": "#8a8a8a", "strokeWidth": 1},
 "axis": {"grid": false, "labelFont": "Liberation Sans", "titleFont": "Liberation Sans", "labelFontSize": 5.5, "titleFontSize": 5.5, "labelColor": "#333", "titleColor": "#333", "titleFontWeight": "normal", "tickSize": 2, "tickColor": "#777", "domainColor": "#8a8a8a", "labelPadding": 1, "titlePadding": 1},
 "axisY": {"minExtent": 26, "maxExtent": 26, "titlePadding": 3},
 "title": {"font": "Liberation Sans", "subtitleFont": "Liberation Sans", "color": "#111", "anchor": "middle", "frame": "group"}
}
}
